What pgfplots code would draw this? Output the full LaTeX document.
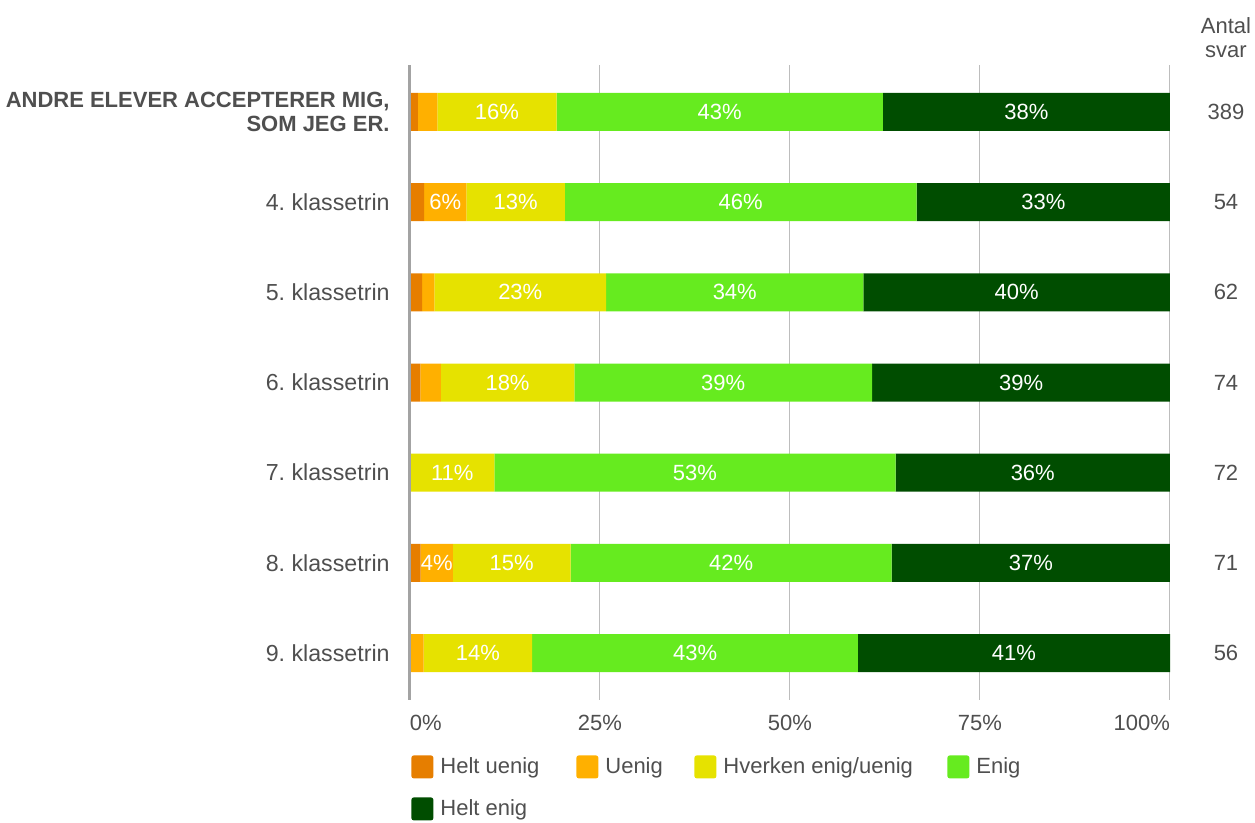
\documentclass[border=0pt]{standalone}
\usepackage{pgfplots}
\pgfplotsset{compat=1.18}
\usepackage{fontspec}
\setmainfont{Liberation Sans}

\definecolor{hu}{HTML}{E67E00}
\definecolor{ue}{HTML}{FFB000}
\definecolor{hv}{HTML}{E6E200}
\definecolor{en}{HTML}{66EB1F}
\definecolor{he}{HTML}{004D00}
\definecolor{txt}{HTML}{4F4F4F}
\definecolor{gridc}{HTML}{BDBDBD}
\definecolor{axc}{HTML}{A3A3A3}

\newcommand{\lbl}{\fontsize{11}{12}\selectfont}
\newcommand{\cat}{\fontsize{11.6}{12}\selectfont}

\begin{document}
\frenchspacing
\begin{tikzpicture}
\useasboundingbox (-205pt,-61.5pt) rectangle (422.5pt,350pt);
\pgfplotsset{
  base/.style={
    at={(0,0)}, anchor=south west, scale only axis,
    width=380pt, height=317.5pt,
    xmin=0, xmax=100, ymin=-0.52, ymax=6.52, y dir=reverse,
    ytick={0,...,6},
    axis line style={draw=none},
    major tick length=0pt,
    clip=false,
    /pgf/number format/assume math mode=true,
  },
}
\begin{axis}[base,
  xbar stacked, bar width=19pt,
  xtick={0,25,50,75,100},
  xticklabels={\makebox[0pt][l]{0\%},25\%,50\%,75\%,\makebox[0pt][r]{100\%}},
  xticklabel style={anchor=north, inner sep=0pt, yshift=-7.5pt, font=\lbl, text=txt},
  xmajorgrids, grid style={gridc, line width=0.5pt},
  yticklabels={{\lbl\textbf{ANDRE ELEVER ACCEPTERER MIG,}\\\lbl\textbf{SOM JEG ER.}},
    4. klassetrin, 5. klassetrin, 6. klassetrin, 7. klassetrin,
    8. klassetrin, 9. klassetrin},
  yticklabel style={align=right, anchor=east, inner sep=0pt, xshift=-10pt, font=\cat, text=txt},
  visualization depends on={rawx \as \segw},
  nodes near coords={\ifdim\segw pt>3pt\relax\pgfmathprintnumber[fixed,precision=0]{\segw}\%\fi},
  every node near coord/.append style={anchor=center, inner sep=0pt, text=white, font=\lbl},
  legend columns=4,
  legend style={at={(0,0)}, anchor=north west, xshift=0.5pt, yshift=-27.5pt,
    draw=none, fill=none, inner sep=0pt, column sep=0pt, row sep=9.5pt,
    font=\lbl, text=txt, nodes={inner sep=0pt}},
  legend image code/.code={\fill[#1, rounded corners=1.2pt] (0pt,-5.75pt) rectangle (11pt,5.75pt);},
]
% Helt uenig
\addplot[fill=hu, draw=none] coordinates {
  (1.03,0) (1.85,1) (1.61,2) (1.35,3) (0,4) (1.41,5) (0,6)};
\addlegendentry{\makebox[71.5pt][l]{\hspace{3.5pt}Helt uenig}}
% Uenig
\addplot[fill=ue, draw=none] coordinates {
  (2.57,0) (5.56,1) (1.61,2) (2.70,3) (0,4) (4.23,5) (1.79,6)};
\addlegendentry{\makebox[48pt][l]{\hspace{3.5pt}Uenig}}
% Hverken enig/uenig
\addplot[fill=hv, draw=none] coordinates {
  (15.68,0) (12.96,1) (22.58,2) (17.57,3) (11.11,4) (15.49,5) (14.29,6)};
\addlegendentry{\makebox[115.5pt][l]{\hspace{3.5pt}Hverken enig/uenig}}
% Enig
\addplot[fill=en, draw=none] coordinates {
  (42.93,0) (46.30,1) (33.87,2) (39.19,3) (52.78,4) (42.25,5) (42.86,6)};
\addlegendentry{\makebox[30pt][l]{\hspace{3.5pt}Enig}}
% Helt enig
\addplot[fill=he, draw=none] coordinates {
  (37.79,0) (33.33,1) (40.32,2) (39.19,3) (36.11,4) (36.62,5) (41.07,6)};
\addlegendentry{\makebox[71.5pt][l]{\hspace{3.5pt}Helt enig}}
\end{axis}

\begin{axis}[base,
  xtick=\empty,
  extra x ticks={0}, extra x tick labels={},
  extra x tick style={xmajorgrids=true, grid style={axc, line width=1.5pt}},
  yticklabel pos=right,
  yticklabels={389,54,62,74,72,71,56},
  yticklabel style={anchor=center, xshift=28pt, font=\lbl, text=txt},
]
\node[anchor=center, align=center, font=\lbl, text=txt, xshift=28pt, yshift=13.75pt]
  at (rel axis cs:1,1) {Antal\\svar};
\end{axis}
\end{tikzpicture}
\end{document}
